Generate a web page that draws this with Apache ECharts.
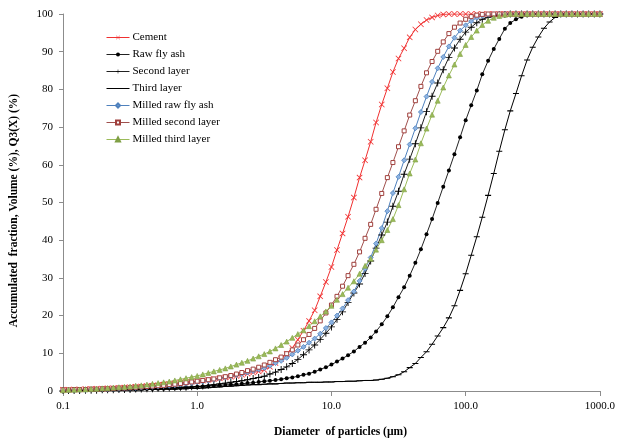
<!DOCTYPE html>
<html>
<head>
<meta charset="utf-8">
<script src="https://cdn.jsdelivr.net/npm/echarts@6/dist/echarts.min.js"></script>
<style>
  html, body { margin: 0; padding: 0; background: #fff; overflow: hidden; }
  #chart { width: 618px; height: 443px; }
</style>
</head>
<body>
<div id="chart"></div>
<script>
// Particle diameters (µm), 24 log-spaced channels per decade
const diameters = [
  0.1, 0.110, 0.121, 0.133, 0.147, 0.162, 0.178, 0.196, 0.215, 0.237, 0.261, 0.287,
  0.316, 0.348, 0.383, 0.422, 0.464, 0.511, 0.562, 0.619, 0.681, 0.750, 0.825, 0.909,
  1.0, 1.10, 1.21, 1.33, 1.47, 1.62, 1.78, 1.96, 2.15, 2.37, 2.61, 2.87,
  3.16, 3.48, 3.83, 4.22, 4.64, 5.11, 5.62, 6.19, 6.81, 7.50, 8.25, 9.09,
  10, 11.0, 12.1, 13.3, 14.7, 16.2, 17.8, 19.6, 21.5, 23.7, 26.1, 28.7,
  31.6, 34.8, 38.3, 42.2, 46.4, 51.1, 56.2, 61.9, 68.1, 75.0, 82.5, 90.9,
  100, 110, 121, 133, 147, 162, 178, 196, 215, 237, 261, 287,
  316, 348, 383, 422, 464, 511, 562, 619, 681, 750, 825, 909,
  1000
];

// Cumulative volume passing (%) per material
const cement = [
  0.3, 0.3, 0.4, 0.4, 0.5, 0.5, 0.6, 0.6, 0.7, 0.7, 0.8, 0.9,
  1.0, 1.1, 1.2, 1.3, 1.4, 1.5, 1.7, 1.8, 2.0, 2.2, 2.4, 2.5,
  2.6, 2.8, 3.0, 3.2, 3.4, 3.6, 3.8, 4.0, 4.3, 4.6, 4.9, 5.2,
  5.6, 6.4, 7.4, 8.5, 9.9, 11.4, 13.6, 16.0, 18.6, 21.4, 25.1, 28.9,
  32.9, 37.4, 41.8, 46.2, 51.3, 56.6, 61.2, 66.1, 71.2, 76.0, 80.3, 84.6,
  88.2, 90.9, 93.8, 95.9, 97.3, 98.4, 99.1, 99.6, 99.9, 100, 100, 100,
  100, 100, 100, 100, 100, 100, 100, 100, 100, 100, 100, 100,
  100, 100, 100, 100, 100, 100, 100, 100, 100, 100, 100, 100,
  100
];
const rawFlyAsh = [
  0.1, 0.1, 0.1, 0.1, 0.2, 0.2, 0.2, 0.2, 0.3, 0.3, 0.3, 0.4,
  0.4, 0.4, 0.5, 0.5, 0.5, 0.6, 0.6, 0.7, 0.7, 0.8, 0.9, 1.0,
  1.1, 1.2, 1.3, 1.4, 1.5, 1.6, 1.7, 1.8, 1.9, 2.1, 2.2, 2.4,
  2.6, 2.7, 2.9, 3.1, 3.4, 3.6, 3.9, 4.3, 4.6, 5.1, 5.7, 6.3,
  7.0, 7.8, 8.6, 9.5, 10.5, 11.7, 12.8, 14.2, 15.8, 17.7, 19.8, 22.2,
  24.9, 27.5, 30.6, 34.0, 37.6, 41.6, 45.6, 49.9, 54.2, 58.5, 62.8, 67.3,
  71.8, 75.8, 79.7, 84.0, 87.6, 90.7, 93.4, 96.1, 97.6, 98.6, 99.3, 99.7,
  99.9, 100, 100, 100, 100, 100, 100, 100, 100, 100, 100, 100,
  100
];
const secondLayer = [
  0.1, 0.1, 0.1, 0.1, 0.2, 0.2, 0.2, 0.3, 0.3, 0.3, 0.4, 0.4,
  0.4, 0.5, 0.5, 0.6, 0.6, 0.7, 0.7, 0.8, 0.9, 1.0, 1.0, 1.1,
  1.2, 1.3, 1.5, 1.7, 1.9, 2.1, 2.3, 2.5, 2.7, 3.0, 3.3, 3.6,
  3.9, 4.5, 5.0, 5.7, 6.4, 7.3, 8.4, 9.6, 10.9, 12.2, 13.7, 15.3,
  17.0, 19.0, 21.0, 23.5, 26.0, 28.4, 31.2, 34.5, 37.9, 41.4, 44.8, 49.0,
  53.0, 57.5, 61.5, 65.6, 69.8, 74.1, 78.2, 81.7, 85.2, 88.5, 91.0, 93.3,
  95.2, 96.5, 97.7, 98.6, 99.1, 99.5, 99.8, 99.9, 100, 100, 100, 100,
  100, 100, 100, 100, 100, 100, 100, 100, 100, 100, 100, 100,
  100
];
const thirdLayer = [
  0.0, 0.0, 0.1, 0.1, 0.1, 0.1, 0.1, 0.2, 0.2, 0.2, 0.2, 0.3,
  0.3, 0.3, 0.3, 0.4, 0.4, 0.4, 0.5, 0.5, 0.5, 0.6, 0.6, 0.7,
  0.7, 0.8, 0.9, 1.0, 1.1, 1.2, 1.3, 1.4, 1.5, 1.6, 1.7, 1.7,
  1.8, 1.9, 1.9, 2.0, 2.1, 2.1, 2.2, 2.2, 2.3, 2.3, 2.3, 2.4,
  2.4, 2.5, 2.5, 2.6, 2.6, 2.7, 2.8, 2.8, 2.9, 3.1, 3.4, 3.8,
  4.3, 5.1, 6.2, 7.3, 8.9, 10.4, 12.4, 14.6, 16.8, 19.4, 22.6, 26.7,
  31.1, 36.0, 40.9, 46.1, 51.9, 57.7, 63.6, 69.3, 74.3, 78.9, 83.6, 87.8,
  91.2, 93.9, 96.2, 97.9, 99.1, 99.7, 99.9, 100, 100, 100, 100, 100,
  100
];
const milledRawFlyAsh = [
  0.2, 0.2, 0.3, 0.3, 0.3, 0.4, 0.4, 0.5, 0.5, 0.6, 0.6, 0.7,
  0.8, 0.8, 0.9, 1.0, 1.1, 1.2, 1.3, 1.4, 1.5, 1.7, 1.9, 2.1,
  2.3, 2.5, 2.7, 3.0, 3.3, 3.6, 3.9, 4.2, 4.5, 4.9, 5.3, 5.7,
  6.1, 6.7, 7.4, 8.0, 8.8, 9.7, 10.7, 11.7, 12.8, 13.9, 15.2, 16.7,
  18.2, 20.0, 21.9, 24.1, 26.4, 29.2, 32.4, 35.4, 39.1, 43.2, 47.7, 52.5,
  56.8, 61.2, 65.4, 69.7, 74.0, 78.1, 82.0, 85.6, 88.6, 91.4, 93.7, 95.6,
  97.0, 98.1, 99.0, 99.5, 99.8, 99.9, 100, 100, 100, 100, 100, 100,
  100, 100, 100, 100, 100, 100, 100, 100, 100, 100, 100, 100,
  100
];
const milledSecondLayer = [
  0.3, 0.3, 0.4, 0.4, 0.4, 0.5, 0.5, 0.6, 0.6, 0.7, 0.8, 0.8,
  0.9, 1.0, 1.1, 1.2, 1.3, 1.4, 1.5, 1.7, 1.8, 2.0, 2.2, 2.4,
  2.6, 2.8, 3.0, 3.2, 3.5, 3.8, 4.1, 4.5, 4.9, 5.4, 5.8, 6.3,
  6.9, 7.6, 8.3, 9.0, 9.9, 10.9, 12.2, 13.6, 15.0, 16.6, 18.6, 20.7,
  22.8, 25.1, 27.8, 30.6, 33.6, 36.9, 40.5, 44.2, 48.2, 52.4, 56.6, 60.6,
  64.8, 69.0, 73.2, 77.0, 80.8, 84.4, 87.4, 90.1, 92.6, 94.8, 96.5, 97.6,
  98.6, 99.3, 99.7, 99.9, 100, 100, 100, 100, 100, 100, 100, 100,
  100, 100, 100, 100, 100, 100, 100, 100, 100, 100, 100, 100,
  100
];
const milledThirdLayer = [
  0.2, 0.3, 0.3, 0.4, 0.4, 0.5, 0.6, 0.7, 0.8, 0.9, 1.0, 1.1,
  1.2, 1.4, 1.5, 1.7, 1.9, 2.1, 2.3, 2.5, 2.8, 3.1, 3.4, 3.7,
  4.0, 4.4, 4.8, 5.2, 5.6, 6.0, 6.5, 7.0, 7.5, 8.0, 8.6, 9.2,
  9.8, 10.5, 11.3, 12.2, 13.1, 14.1, 15.1, 16.1, 17.2, 18.5, 19.8, 21.1,
  22.6, 24.2, 25.7, 27.4, 29.1, 31.1, 33.2, 35.1, 37.5, 40.0, 42.7, 45.6,
  49.3, 53.5, 57.7, 61.4, 65.7, 69.6, 73.3, 77.0, 80.5, 83.7, 86.6, 89.4,
  91.8, 93.9, 95.6, 97.1, 98.2, 99.0, 99.5, 99.8, 100, 100, 100, 100,
  100, 100, 100, 100, 100, 100, 100, 100, 100, 100, 100, 100,
  100
];

const serif = 'Liberation Serif';
// Filled outlines so the marks render the same in the plot and in the legend
const CROSS = 'path://M0,0.9L0.9,0L5,4.1L9.1,0L10,0.9L5.9,5L10,9.1L9.1,10L5,5.9L0.9,10L0,9.1L4.1,5Z';
const PLUS = 'path://M4.35,0H5.65V4.35H10V5.65H5.65V10H4.35V5.65H0V4.35H4.35Z';
// Short horizontal bar inside a square box (tiny corner anchors keep the box square)
const DASH = 'path://M0,0L0.01,0L0,0.01Z M10,10L9.99,10L10,9.99Z M0,4.1H10V5.9H0Z';

function pairs(values) {
  return diameters.map((d, i) => [d, values[i]]);
}

function lineSeries(name, values, lineColor, symbol, size, itemStyle) {
  return {
    name: name,
    type: 'line',
    data: pairs(values),
    symbol: symbol,
    symbolSize: size,
    showSymbol: true,
    lineStyle: { color: lineColor, width: 1 },
    itemStyle: itemStyle,
    emphasis: { disabled: true }
  };
}

const series = [
  lineSeries('Cement', cement, '#f03030', CROSS, 6,
    { color: '#f03030', borderWidth: 0 }),
  lineSeries('Raw fly ash', rawFlyAsh, '#222', 'circle', 4,
    { color: '#000', borderWidth: 0 }),
  lineSeries('Second layer', secondLayer, '#222', PLUS, 7,
    { color: '#000', borderWidth: 0 }),
  lineSeries('Third layer', thirdLayer, '#000', DASH, 6,
    { color: '#000', borderWidth: 0 }),
  lineSeries('Milled raw fly ash', milledRawFlyAsh, '#4f81bd', 'diamond', 5,
    { color: '#8db3e2', borderColor: '#4f81bd', borderWidth: 0.8 }),
  lineSeries('Milled second layer', milledSecondLayer, '#a0504d', 'rect', 4,
    { color: '#fff', borderColor: '#a0403d', borderWidth: 1 }),
  lineSeries('Milled third layer', milledThirdLayer, '#9bbb59', 'triangle', 5,
    { color: '#9bbb59', borderColor: '#7f9f45', borderWidth: 0.6 })
];

const chart = echarts.init(document.getElementById('chart'), null, { renderer: 'canvas' });
chart.setOption({
  animation: false,
  backgroundColor: '#fff',
  grid: { left: 60, top: 14, width: 542, height: 379, containLabel: false },
  legend: {
    orient: 'vertical',
    left: 101,
    top: 27,
    itemWidth: 23,
    itemHeight: 5,
    itemGap: 6,
    lineStyle: { width: 1 },
    textStyle: { fontFamily: serif, fontSize: 11, color: '#000', padding: [0, 0, 0, -2] },
    data: series.map(s => s.name)
  },
  xAxis: {
    type: 'log',
    logBase: 10,
    min: 0.1,
    max: 1000,
    name: 'Diameter  of particles (µm)',
    nameLocation: 'middle',
    nameGap: 35,
    nameTextStyle: {
      fontFamily: serif, fontSize: 11.5, fontWeight: 'bold', color: '#000',
      padding: [0, 0, 0, 18]
    },
    axisLine: { show: true, lineStyle: { color: '#8c8c8c', width: 1 } },
    axisTick: { show: true, inside: false, length: 5, lineStyle: { color: '#8c8c8c' } },
    minorTick: { show: false },
    splitLine: { show: false },
    axisLabel: {
      fontFamily: serif, fontSize: 11, color: '#000', margin: 10,
      formatter: v => Number(v).toFixed(1)
    }
  },
  yAxis: {
    type: 'value',
    min: 0,
    max: 100,
    interval: 10,
    name: 'Accumulated  fraction, Volume (%), Q3(X) (%)',
    nameLocation: 'middle',
    nameGap: 43,
    nameTextStyle: {
      fontFamily: serif, fontSize: 11.5, fontWeight: 'bold', color: '#000',
      padding: [0, 16, 0, 0]
    },
    axisLine: { show: true, lineStyle: { color: '#8c8c8c', width: 1 } },
    axisTick: { show: true, inside: false, length: 4, lineStyle: { color: '#8c8c8c' } },
    splitLine: { show: false },
    axisLabel: { fontFamily: serif, fontSize: 11, color: '#000', margin: 10 }
  },
  series: series
});
</script>
</body>
</html>
